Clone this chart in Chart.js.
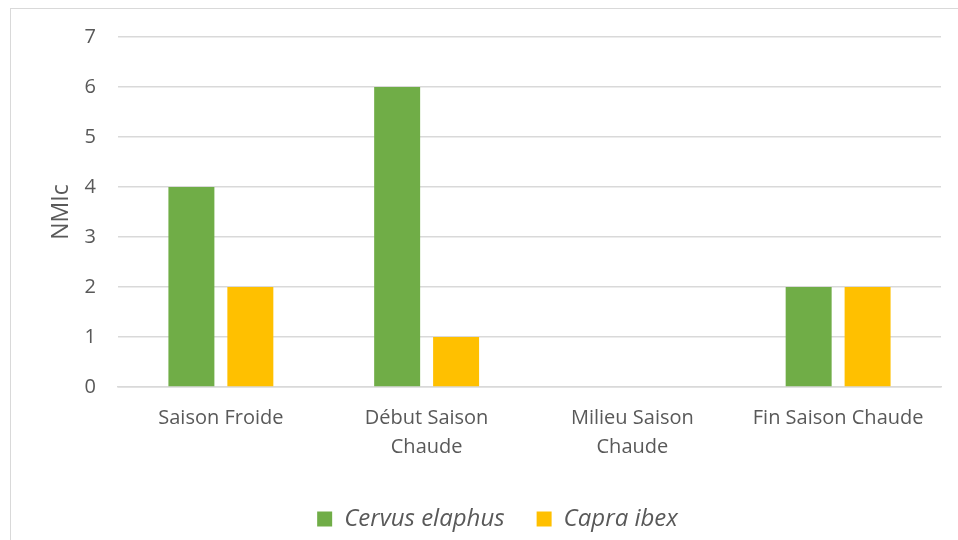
<!DOCTYPE html>
<html>
<head>
<meta charset="utf-8">
<script src="https://cdn.jsdelivr.net/npm/chart.js@4"></script>
<style>
  html, body { margin: 0; padding: 0; background: #ffffff; }
  #wrap { position: relative; width: 958px; height: 540px; overflow: hidden; }
  #frame { position: absolute; left: 10px; top: 8px; width: 1000px; height: 600px; border: 1.5px solid #d9d9d9; box-sizing: border-box; }
  canvas { position: absolute; left: 0; top: 0; }
</style>
</head>
<body>
<div id="wrap">
  <div id="frame"></div>
  <canvas id="c" width="958" height="540"></canvas>
</div>
<script>
const categories = [["Saison Froide"], ["Début Saison", "Chaude"], ["Milieu Saison", "Chaude"], ["Fin Saison Chaude"]];
const seriesNames = ["Cervus elaphus", "Capra ibex"];
const cervusElaphus = [4, 6, 0, 2];
const capraIbex = [2, 1, 0, 2];
const yTicks = [0, 1, 2, 3, 4, 5, 6, 7];
const yTitle = "NMIc";

const FONT = "'Open Sans', 'Noto Sans', sans-serif";
const TXT = "#595959";

new Chart(document.getElementById('c'), {
  type: 'bar',
  data: {
    labels: categories,
    datasets: [
      { label: seriesNames[0], data: cervusElaphus, backgroundColor: '#70ad47', categoryPercentage: 0.573, barPercentage: 0.78 },
      { label: seriesNames[1], data: capraIbex, backgroundColor: '#ffc000', categoryPercentage: 0.573, barPercentage: 0.78 }
    ]
  },
  options: {
    responsive: false,
    animation: false,
    layout: { padding: { left: 54, right: 17, top: 37, bottom: -1 } },
    plugins: {
      tooltip: { enabled: false },
      legend: {
        position: 'bottom',
        labels: {
          font: { family: FONT, size: 24, style: 'italic' },
          color: TXT,
          boxWidth: 15,
          boxHeight: 15,
          padding: 32
        }
      }
    },
    scales: {
      x: {
        grid: { display: false },
        border: { color: '#d9d9d9', width: 1.5 },
        ticks: { font: { family: FONT, size: 20, lineHeight: 1.45 }, color: TXT, padding: 9, maxRotation: 0, autoSkip: false },
        afterFit: (s) => { s.height = 88; }
      },
      y: {
        min: 0, max: 7,
        afterBuildTicks: (s) => { s.ticks = yTicks.map(v => ({ value: v })); },
        grid: { color: '#d9d9d9', lineWidth: 1.5, drawTicks: false },
        border: { display: false },
        ticks: { font: { family: FONT, size: 20 }, color: TXT, padding: 22 },
        title: { display: true, text: yTitle, font: { family: FONT, size: 23 }, color: TXT, padding: { top: -6, bottom: 0 } },
        afterFit: (s) => { s.width = 64; }
      }
    }
  }
});
</script>
</body>
</html>
